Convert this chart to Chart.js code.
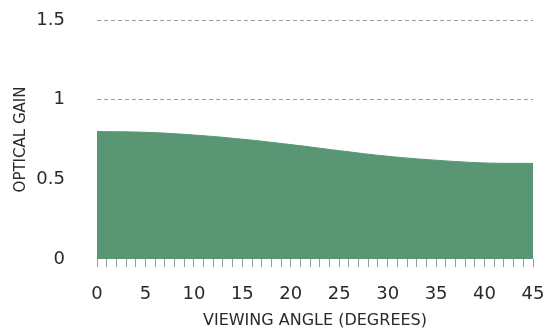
<!DOCTYPE html>
<html>
<head>
<meta charset="utf-8">
<script src="https://cdn.jsdelivr.net/npm/chart.js"></script>
<style>
  html, body { margin: 0; padding: 0; background: #fff; }
  #wrap { width: 548px; height: 332px; }
</style>
</head>
<body>
<div id="wrap"><canvas id="gainChart" width="548" height="332"></canvas></div>
<script>
  // viewing angle in degrees and measured optical gain
  const angles = [0, 5, 10, 15, 20, 25, 30, 35, 40, 45];
  const gain = [0.80, 0.795, 0.778, 0.752, 0.718, 0.68, 0.645, 0.62, 0.603, 0.60];
  const yTicks = [0, 0.5, 1, 1.5];

  const font = "'DejaVu Sans', 'Noto Sans', sans-serif";
  const textColor = '#2a2a2a';

  const ctx = document.getElementById('gainChart').getContext('2d');
  new Chart(ctx, {
    type: 'line',
    data: {
      datasets: [{
        data: angles.map((a, i) => ({ x: a, y: gain[i] })),
        fill: 'origin',
        backgroundColor: '#589674',
        borderColor: '#589674',
        borderWidth: 1,
        pointRadius: 0,
        tension: 0.4
      }]
    },
    options: {
      responsive: false,
      animation: false,
      layout: { padding: { top: 0, right: 0, bottom: 2, left: 0 } },
      plugins: { legend: { display: false }, tooltip: { enabled: false } },
      scales: {
        x: {
          type: 'linear',
          min: 0,
          max: 45,
          border: { display: false },
          grid: {
            drawOnChartArea: false,
            drawTicks: true,
            tickLength: 8,
            color: '#9a9a9a'
          },
          ticks: {
            stepSize: 1,
            autoSkip: false,
            maxRotation: 0,
            padding: 17,
            color: textColor,
            font: { family: font, size: 18 },
            callback: v => (v % 5 === 0 ? String(v) : '')
          },
          title: {
            display: true,
            text: 'VIEWING ANGLE (DEGREES)',
            color: textColor,
            font: { family: font, size: 16 },
            padding: { top: 0, bottom: 0 }
          },
          // fixed axis box; tick padding would otherwise widen the side margins
          afterFit: s => {
            s.height = 71;
            s.paddingLeft = 0;
            s.paddingRight = 15;
          }
        },
        y: {
          min: 0,
          max: 1.5,
          border: { display: false, dash: [4, 3] },
          afterBuildTicks: s => { s.ticks = yTicks.map(v => ({ value: v })); },
          grid: {
            drawTicks: false,
            color: c => (c.tick && c.tick.value === 0 ? 'rgba(0,0,0,0)' : '#9a9a9a'),
            lineWidth: 1
          },
          ticks: {
            padding: 32,
            color: textColor,
            font: { family: font, size: 18 },
            callback: v => String(v)
          },
          title: {
            display: true,
            text: 'OPTICAL GAIN',
            color: textColor,
            font: { family: font, size: 15 },
            padding: { top: 12, bottom: 0 }
          },
          afterFit: s => {
            s.width = 97;
            s.paddingTop = 20;
            s.paddingBottom = 0;
          }
        }
      }
    }
  });
</script>
</body>
</html>
